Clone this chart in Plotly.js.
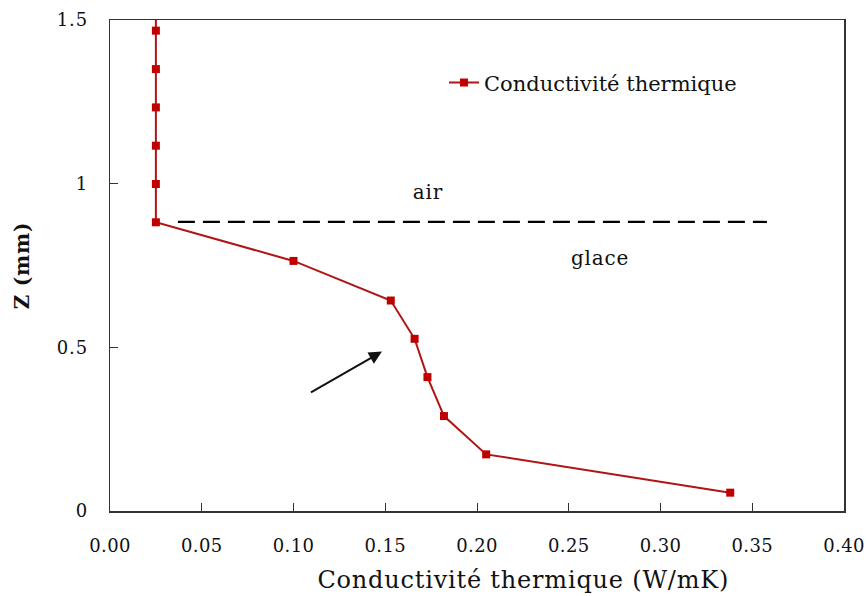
<!DOCTYPE html>
<html>
<head>
<meta charset="utf-8">
<script src="https://cdn.plot.ly/plotly-3.0.1.min.js"></script>
<style>
html,body{margin:0;padding:0;background:#fff;}
#chart{width:868px;height:596px;}
#chart .ytick text, #chart .annotation-text, #chart .ytitle{letter-spacing:0.8px;}
#chart .xtick text{letter-spacing:0.4px;}
</style>
</head>
<body>
<div id="chart"></div>
<script>
// Data
const conductivity = [0.025, 0.025, 0.025, 0.025, 0.025, 0.025, 0.025, 0.100, 0.153, 0.166, 0.173, 0.182, 0.205, 0.338];
const depthZ      = [1.585, 1.4675, 1.350, 1.233, 1.116, 0.999, 0.882, 0.764, 0.643, 0.526, 0.409, 0.290, 0.173, 0.056];
const interfaceX = [0.037, 0.358];
const interfaceZ = [0.883, 0.883];
const xTicks = [0, 0.05, 0.10, 0.15, 0.20, 0.25, 0.30, 0.35, 0.40];
const yTicks = [0, 0.5, 1, 1.5];
const yTickLabels = ["0", "0.5", "1", "1.5"];
const seriesName = "Conductivité thermique";
const xTitle = "Conductivité thermique (W/mK)";
const yTitle = "<b>Z (mm)</b>";
const labelAir = {text: "air", x: 0.1735, y: 0.976};
const labelGlace = {text: "glace", x: 0.2668, y: 0.773};
const arrowTail = {x: 0.1087, y: 0.360};
const arrowHead = {x: 0.1482, y: 0.487};

const FONT = "DejaVu Serif, Liberation Serif, serif";

const traces = [
  {
    x: conductivity, y: depthZ, type: "scatter", mode: "lines+markers",
    name: seriesName,
    line: {color: "#b01515", width: 2},
    marker: {symbol: "square", size: 8, color: "#c00000"},
    cliponaxis: true
  },
  {
    x: interfaceX, y: interfaceZ, type: "scatter", mode: "lines",
    showlegend: false, hoverinfo: "skip",
    line: {color: "#000", width: 2.2, dash: "17px,8px"}
  }
];

const layout = {
  width: 868, height: 596,
  margin: {l: 110, r: 24, t: 20, b: 85},
  paper_bgcolor: "#fff", plot_bgcolor: "#fff",
  font: {family: FONT, color: "#111", size: 18},
  showlegend: true,
  legend: {
    x: 0.455, y: 0.872, xanchor: "left", yanchor: "middle",
    bgcolor: "rgba(0,0,0,0)", font: {family: FONT, size: 21, color: "#111"},
    itemwidth: 30, tracegroupgap: 0
  },
  xaxis: {
    range: [0, 0.4], tickvals: xTicks, tickformat: ".2f",
    ticks: "inside", ticklen: 8, tickcolor: "#333", tickwidth: 1,
    ticklabelstandoff: 18, ticklabeloverflow: "allow",
    showline: true, linecolor: "#333", linewidth: 1.5, mirror: true,
    showgrid: false, zeroline: false,
    tickfont: {family: FONT, size: 18, color: "#111"}
  },
  yaxis: {
    range: [0, 1.5], tickvals: yTicks, ticktext: yTickLabels,
    ticks: "inside", ticklen: 8, tickcolor: "#333", tickwidth: 1,
    ticklabelstandoff: 17, ticklabeloverflow: "allow",
    showline: true, linecolor: "#333", linewidth: 1.5, mirror: true,
    showgrid: false, zeroline: false,
    tickfont: {family: FONT, size: 18, color: "#111"},
    title: {text: yTitle, font: {family: FONT, size: 20, color: "#111"}, standoff: 24}
  },
  annotations: [
    {x: 0.563, y: -0.1405, xref: "paper", yref: "paper", xanchor: "center", yanchor: "middle",
     text: xTitle, showarrow: false, font: {family: FONT, size: 24, color: "#111"}},
    {x: labelAir.x, y: labelAir.y, xref: "x", yref: "y", text: labelAir.text, showarrow: false,
     font: {family: FONT, size: 20, color: "#111"}},
    {x: labelGlace.x, y: labelGlace.y, xref: "x", yref: "y", text: labelGlace.text, showarrow: false,
     font: {family: FONT, size: 20, color: "#111"}},
    {x: arrowHead.x, y: arrowHead.y, xref: "x", yref: "y",
     ax: arrowTail.x, ay: arrowTail.y, axref: "x", ayref: "y",
     text: "", showarrow: true, arrowhead: 2, arrowsize: 1.3, arrowwidth: 2, arrowcolor: "#111"}
  ]
};

Plotly.newPlot("chart", traces, layout, {displayModeBar: false, staticPlot: true});
</script>
</body>
</html>
